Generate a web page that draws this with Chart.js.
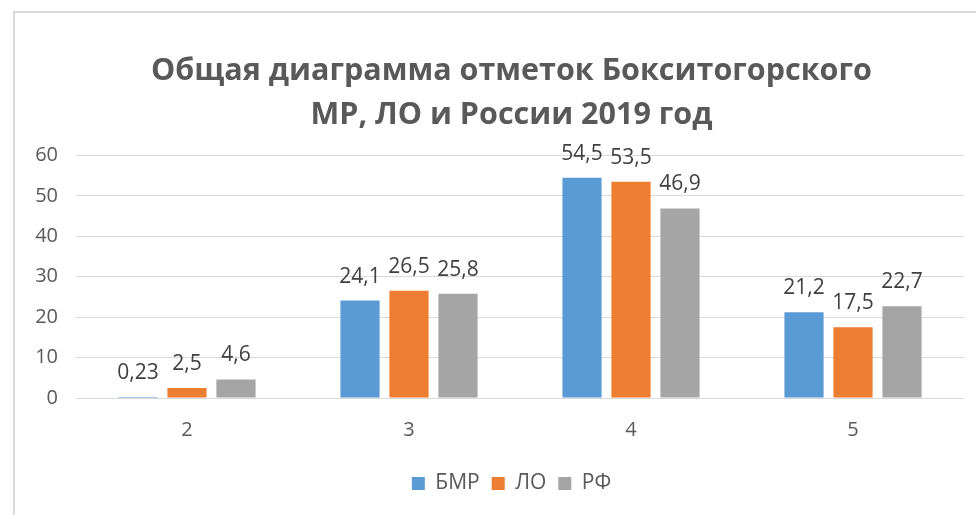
<!DOCTYPE html>
<html>
<head>
<meta charset="utf-8">
<script src="https://cdn.jsdelivr.net/npm/chart.js@4"></script>
<style>
  html, body { margin: 0; padding: 0; background: #fff; overflow: hidden; }
  #frame {
    position: absolute; left: 13px; top: 11px;
    width: 995px; height: 504px;
    border-left: 2px solid #d9d9d9; border-top: 2px solid #d9d9d9;
  }
  #chart { display: block; }
</style>
</head>
<body>
<div id="frame"><canvas id="chart" width="993" height="502"></canvas></div>
<script>
const categories = ["2", "3", "4", "5"];
const seriesNames = ["БМР", "ЛО", "РФ"];
const bmr = [0.23, 24.1, 54.5, 21.2];
const lo = [2.5, 26.5, 53.5, 17.5];
const rf = [4.6, 25.8, 46.9, 22.7];
const yTicks = [0, 10, 20, 30, 40, 50, 60];
const titleLines = ["Общая диаграмма отметок Бокситогорского", "МР, ЛО и России 2019 год"];

const FONT = "'Open Sans', 'DejaVu Sans', sans-serif";

// labels above bars, comma decimal
const barLabels = {
    id: "barLabels",
    afterDatasetsDraw(chart) {
        const ctx = chart.ctx;
        ctx.save();
        ctx.font = "21px " + FONT;
        ctx.fillStyle = "#404040";
        ctx.textAlign = "center";
        ctx.textBaseline = "alphabetic";
        chart.data.datasets.forEach((ds, i) => {
            chart.getDatasetMeta(i).data.forEach((bar, j) => {
                const txt = String(ds.data[j]).replace(".", ",");
                ctx.fillText(txt, bar.x, bar.y - 18);
            });
        });
        ctx.restore();
    }
};

new Chart(document.getElementById("chart"), {
    type: "bar",
    data: {
        labels: categories,
        datasets: [
            { label: seriesNames[0], data: bmr, backgroundColor: "#5B9BD5" },
            { label: seriesNames[1], data: lo, backgroundColor: "#ED7D31" },
            { label: seriesNames[2], data: rf, backgroundColor: "#A5A5A5" }
        ]
    },
    options: {
        responsive: false,
        animation: false,
        categoryPercentage: 0.662,
        barPercentage: 0.8,
        layout: { padding: { left: 0, right: 0, top: 0, bottom: 11 } },
        plugins: {
            title: {
                display: true,
                text: titleLines,
                color: "#595959",
                font: { family: FONT, size: 30.5, weight: "bold", lineHeight: 1.45 },
                padding: { top: 36, bottom: 18 }
            },
            legend: {
                position: "bottom",
                labels: {
                    color: "#595959",
                    font: { family: FONT, size: 21 },
                    boxWidth: 13,
                    boxHeight: 13,
                    padding: 12
                }
            },
            tooltip: { enabled: false }
        },
        scales: {
            x: {
                grid: { display: false },
                border: { display: false },
                afterFit: (axis) => { axis.height += 7; },
                ticks: { color: "#595959", font: { family: FONT, size: 20 }, padding: 12 }
            },
            y: {
                min: 0,
                max: 60,
                afterBuildTicks: (axis) => { axis.ticks = yTicks.map(v => ({ value: v })); },
                afterFit: (axis) => { axis.width = 61; },
                grid: { color: "#d9d9d9", drawTicks: false },
                border: { display: false },
                ticks: { color: "#595959", font: { family: FONT, size: 20 }, padding: 18 }
            },
            // empty right-hand spacer so the plot ends where the reference does
            spacer: {
                position: "right",
                display: true,
                grid: { display: false },
                border: { display: false },
                ticks: { display: false },
                afterFit: (axis) => { axis.width = 44; }
            }
        }
    },
    plugins: [barLabels]
});
</script>
</body>
</html>
